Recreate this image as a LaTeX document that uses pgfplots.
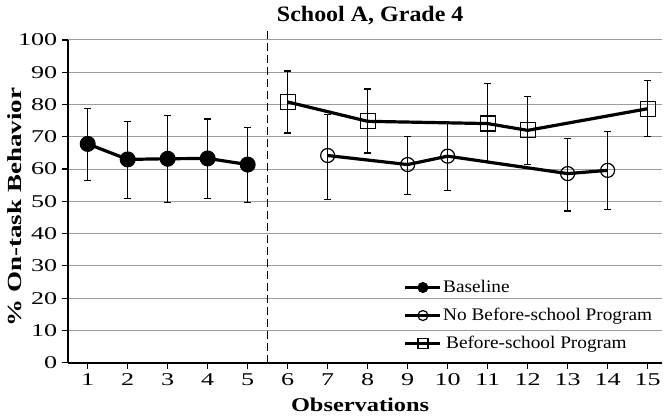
\documentclass[border=0pt]{standalone}
\usepackage{fontspec}
\setmainfont{Liberation Serif}
\newfontfamily\tickf[FakeStretch=1.45]{Liberation Serif}
\newfontfamily\ylabf[FakeStretch=1.35]{Liberation Serif}
\newfontfamily\labf[FakeStretch=1.25]{Liberation Serif}
\newfontfamily\legf[FakeStretch=1.09]{Liberation Serif}
\usepackage{pgfplots}
\pgfplotsset{compat=1.18}
\usepackage{pgfplotstable}
\definecolor{gridgray}{RGB}{155,155,155}

\pgfplotstableread{
x y ep em
1 67.8 10.9 11.4
2 63.0 11.7 12.0
3 63.2 13.3 13.6
4 63.3 12.2 12.3
5 61.4 11.4 11.7
}\baseline

\pgfplotstableread{
x y ep em
7 64.2 12.6 13.7
9 61.4 8.8 9.2
10 64.0 10.0 10.6
13 58.6 10.9 11.6
14 59.6 12.0 12.2
}\nobsp

\pgfplotstableread{
x y ep em
6 80.8 9.6 9.6
8 74.8 10.0 9.8
11 74.1 12.4 11.8
12 72.0 10.6 10.5
15 78.7 8.8 8.7
}\bsp

\begin{document}
\begin{tikzpicture}
\begin{axis}[
  at={(67.7bp,56.3bp)}, anchor=south west,
  scale only axis,
  width=594.3bp, height=322.7bp,
  xmin=0.5, xmax=15.36,
  ymin=0, ymax=100,
  xtick={1,2,...,15},
  ytick={0,10,...,100},
  axis lines*=left,
  axis line style={line width=1.6bp, black},
  tick align=outside,
  major tick length=6bp,
  tick style={line width=1.2bp, black},
  ymajorgrids,
  grid style={line width=1bp, gridgray},
  /pgf/number format/assume math mode=true,
  ticklabel style={font=\tickf\fontsize{18bp}{21bp}\selectfont},
  xticklabel style={yshift=-1bp},
  yticklabel style={xshift=-1bp},
  title={School A, Grade 4},
  title style={at={(axis description cs:0.509,1.056)}, anchor=center,
    font=\legf\bfseries\fontsize{22bp}{26bp}\selectfont},
  xlabel={Observations},
  xlabel style={at={(axis description cs:0.492,-0.131)}, anchor=center,
    font=\labf\bfseries\fontsize{19.5bp}{23bp}\selectfont},
  ylabel={\% On-task Behavior},
  ylabel style={at={(axis description cs:-0.0887,0.4825)}, anchor=center, rotate=0,
    font=\ylabf\bfseries\fontsize{20bp}{24bp}\selectfont},
  clip=false,
  legend style={at={(axis description cs:0.565,0.263)}, anchor=north west,
    draw=none, fill=none, inner sep=0bp, row sep=9bp,
    font=\legf\fontsize{17.7bp}{20bp}\selectfont,
    nodes={text height=13bp, text depth=4bp, inner sep=1bp}},
  legend cell align=left,
  legend image code/.code={\draw[mark repeat=2,mark phase=2,#1] plot coordinates {(0bp,0bp) (17.5bp,0bp) (35bp,0bp)};},
  legend image post style={mark size=5bp, line width=3.5bp},
  error bars/error bar style={line width=1.2bp, black},
  error bars/error mark options={rotate=90, line width=1.2bp, black, mark size=3.5bp},
]
\draw[line width=1.5bp, dash pattern=on 8bp off 4bp] (axis cs:5.5,0) -- (axis cs:5.5,104);

\addplot[black, line width=3.2bp, mark=*, mark size=7.5bp, mark options={solid, fill=black, line width=1bp},
  error bars/.cd, y dir=both, y explicit]
  table[x=x, y=y, y error plus=ep, y error minus=em] {\baseline};
\addlegendentry{Baseline}

\addplot[black, line width=3.2bp, mark=o, mark size=7bp, mark options={solid, line width=1.2bp},
  error bars/.cd, y dir=both, y explicit]
  table[x=x, y=y, y error plus=ep, y error minus=em] {\nobsp};
\addlegendentry{No Before-school Program}

\addplot[black, line width=3.2bp, mark=square, mark size=7.5bp, mark options={solid, line width=1.2bp},
  error bars/.cd, y dir=both, y explicit]
  table[x=x, y=y, y error plus=ep, y error minus=em] {\bsp};
\addlegendentry{\,Before-school Program}
\end{axis}
\pgfresetboundingbox
\useasboundingbox (0,0) rectangle (669bp,419bp);
\end{tikzpicture}
\end{document}
